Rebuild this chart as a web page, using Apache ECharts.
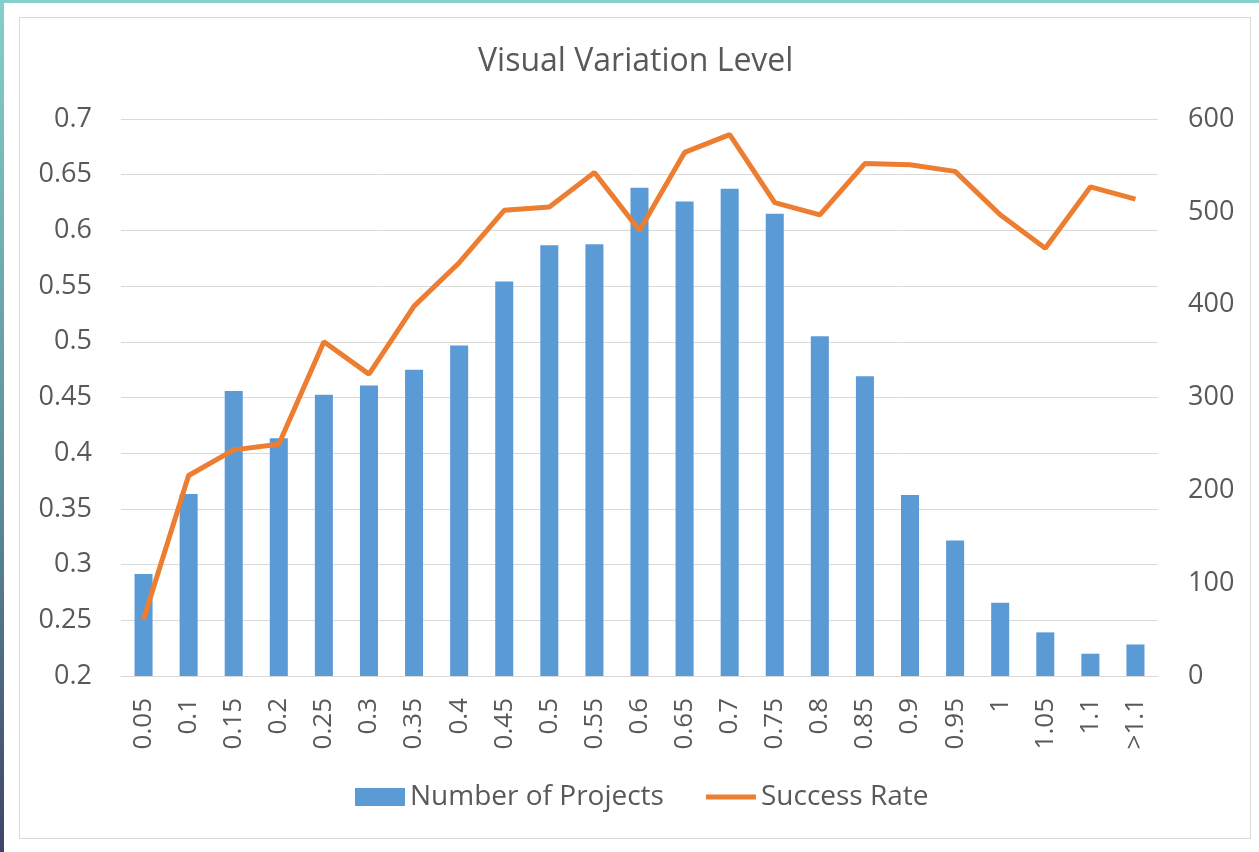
<!DOCTYPE html>
<html>
<head>
<meta charset="utf-8">
<script src="https://cdn.jsdelivr.net/npm/echarts@6/dist/echarts.min.js"></script>
<style>
  html, body { margin: 0; padding: 0; background: #fff; }
  #topStrip { position: absolute; left: 0; top: 0; width: 1259px; height: 3px; background: #84d0cb; }
  #leftStrip { position: absolute; left: 0; top: 0; width: 4px; height: 852px;
    background: linear-gradient(#84d0cb, #5a8a98 60%, #3f4466); }
  #frame { position: absolute; left: 19px; top: 17px; width: 1232px; height: 822px;
    border: 1px solid #d9d9d9; box-sizing: border-box; }
  #main { position: absolute; left: 0; top: 0; width: 1259px; height: 852px; }
</style>
</head>
<body>
<div id="topStrip"></div>
<div id="leftStrip"></div>
<div id="frame"></div>
<div id="main"></div>
<script>
// 类别 (x 轴)
var categories = ['0.05', '0.1', '0.15', '0.2', '0.25', '0.3', '0.35', '0.4', '0.45', '0.5', '0.55', '0.6',
  '0.65', '0.7', '0.75', '0.8', '0.85', '0.9', '0.95', '1', '1.05', '1.1', '>1.1']

// 项目数量 (右轴)
var projectCounts = [110, 196, 307, 256, 303, 313, 330, 356, 425, 464, 465, 526,
  511, 525, 498, 366, 323, 195, 146, 79, 47, 24, 34]

// 成功率 (左轴)
var successRates = [0.251, 0.380, 0.403, 0.408, 0.500, 0.471, 0.532, 0.571, 0.618, 0.621, 0.652, 0.600,
  0.670, 0.686, 0.625, 0.614, 0.660, 0.659, 0.653, 0.614, 0.584, 0.639, 0.628]

var textColor = '#595959'
var fontName = 'Open Sans'

var chart = echarts.init(document.getElementById('main'))

var option = {
  animation: false,
  textStyle: { fontFamily: fontName },
  title: {
    text: 'Visual Variation Level',
    left: 473,
    top: 41,
    textStyle: { color: textColor, fontSize: 32, fontWeight: 'normal', fontFamily: fontName }
  },
  legend: {
    bottom: 36,
    left: 350,
    itemWidth: 50,
    itemHeight: 18,
    itemGap: 42,
    textStyle: { color: textColor, fontSize: 28, fontFamily: fontName },
    data: [
      { name: 'Number of Projects', icon: 'rect' },
      { name: 'Success Rate', icon: 'path://M0,0 H50 V5 H0 Z' }
    ]
  },
  grid: { left: 121, right: 101, top: 119, bottom: 176 },
  xAxis: {
    type: 'category',
    data: categories,
    axisLine: { lineStyle: { color: '#d9d9d9' } },
    axisTick: { show: false },
    axisLabel: { rotate: 90, margin: 22, color: textColor, fontSize: 26, fontFamily: fontName, interval: 0 }
  },
  yAxis: [
    {
      type: 'value',
      min: 0.2,
      max: 0.7,
      interval: 0.05,
      axisLine: { show: false },
      axisTick: { show: false },
      splitLine: { lineStyle: { color: '#d9d9d9', width: 1 } },
      axisLabel: {
        margin: 29, color: textColor, fontSize: 27, fontFamily: fontName,
        formatter: function (v) { return String(parseFloat(v.toFixed(2))) }
      }
    },
    {
      type: 'value',
      min: 0,
      max: 600,
      interval: 100,
      position: 'right',
      axisLine: { show: false },
      axisTick: { show: false },
      splitLine: { show: false },
      axisLabel: { margin: 30, color: textColor, fontSize: 27, fontFamily: fontName }
    }
  ],
  series: [
    {
      name: 'Number of Projects',
      type: 'bar',
      yAxisIndex: 1,
      data: projectCounts,
      barWidth: '40%',
      itemStyle: { color: '#5b9bd5' }
    },
    {
      name: 'Success Rate',
      type: 'line',
      yAxisIndex: 0,
      data: successRates,
      symbol: 'none',
      lineStyle: { color: '#ed7d31', width: 5 },
      itemStyle: { color: '#ed7d31' }
    }
  ]
}

chart.setOption(option)
</script>
</body>
</html>
